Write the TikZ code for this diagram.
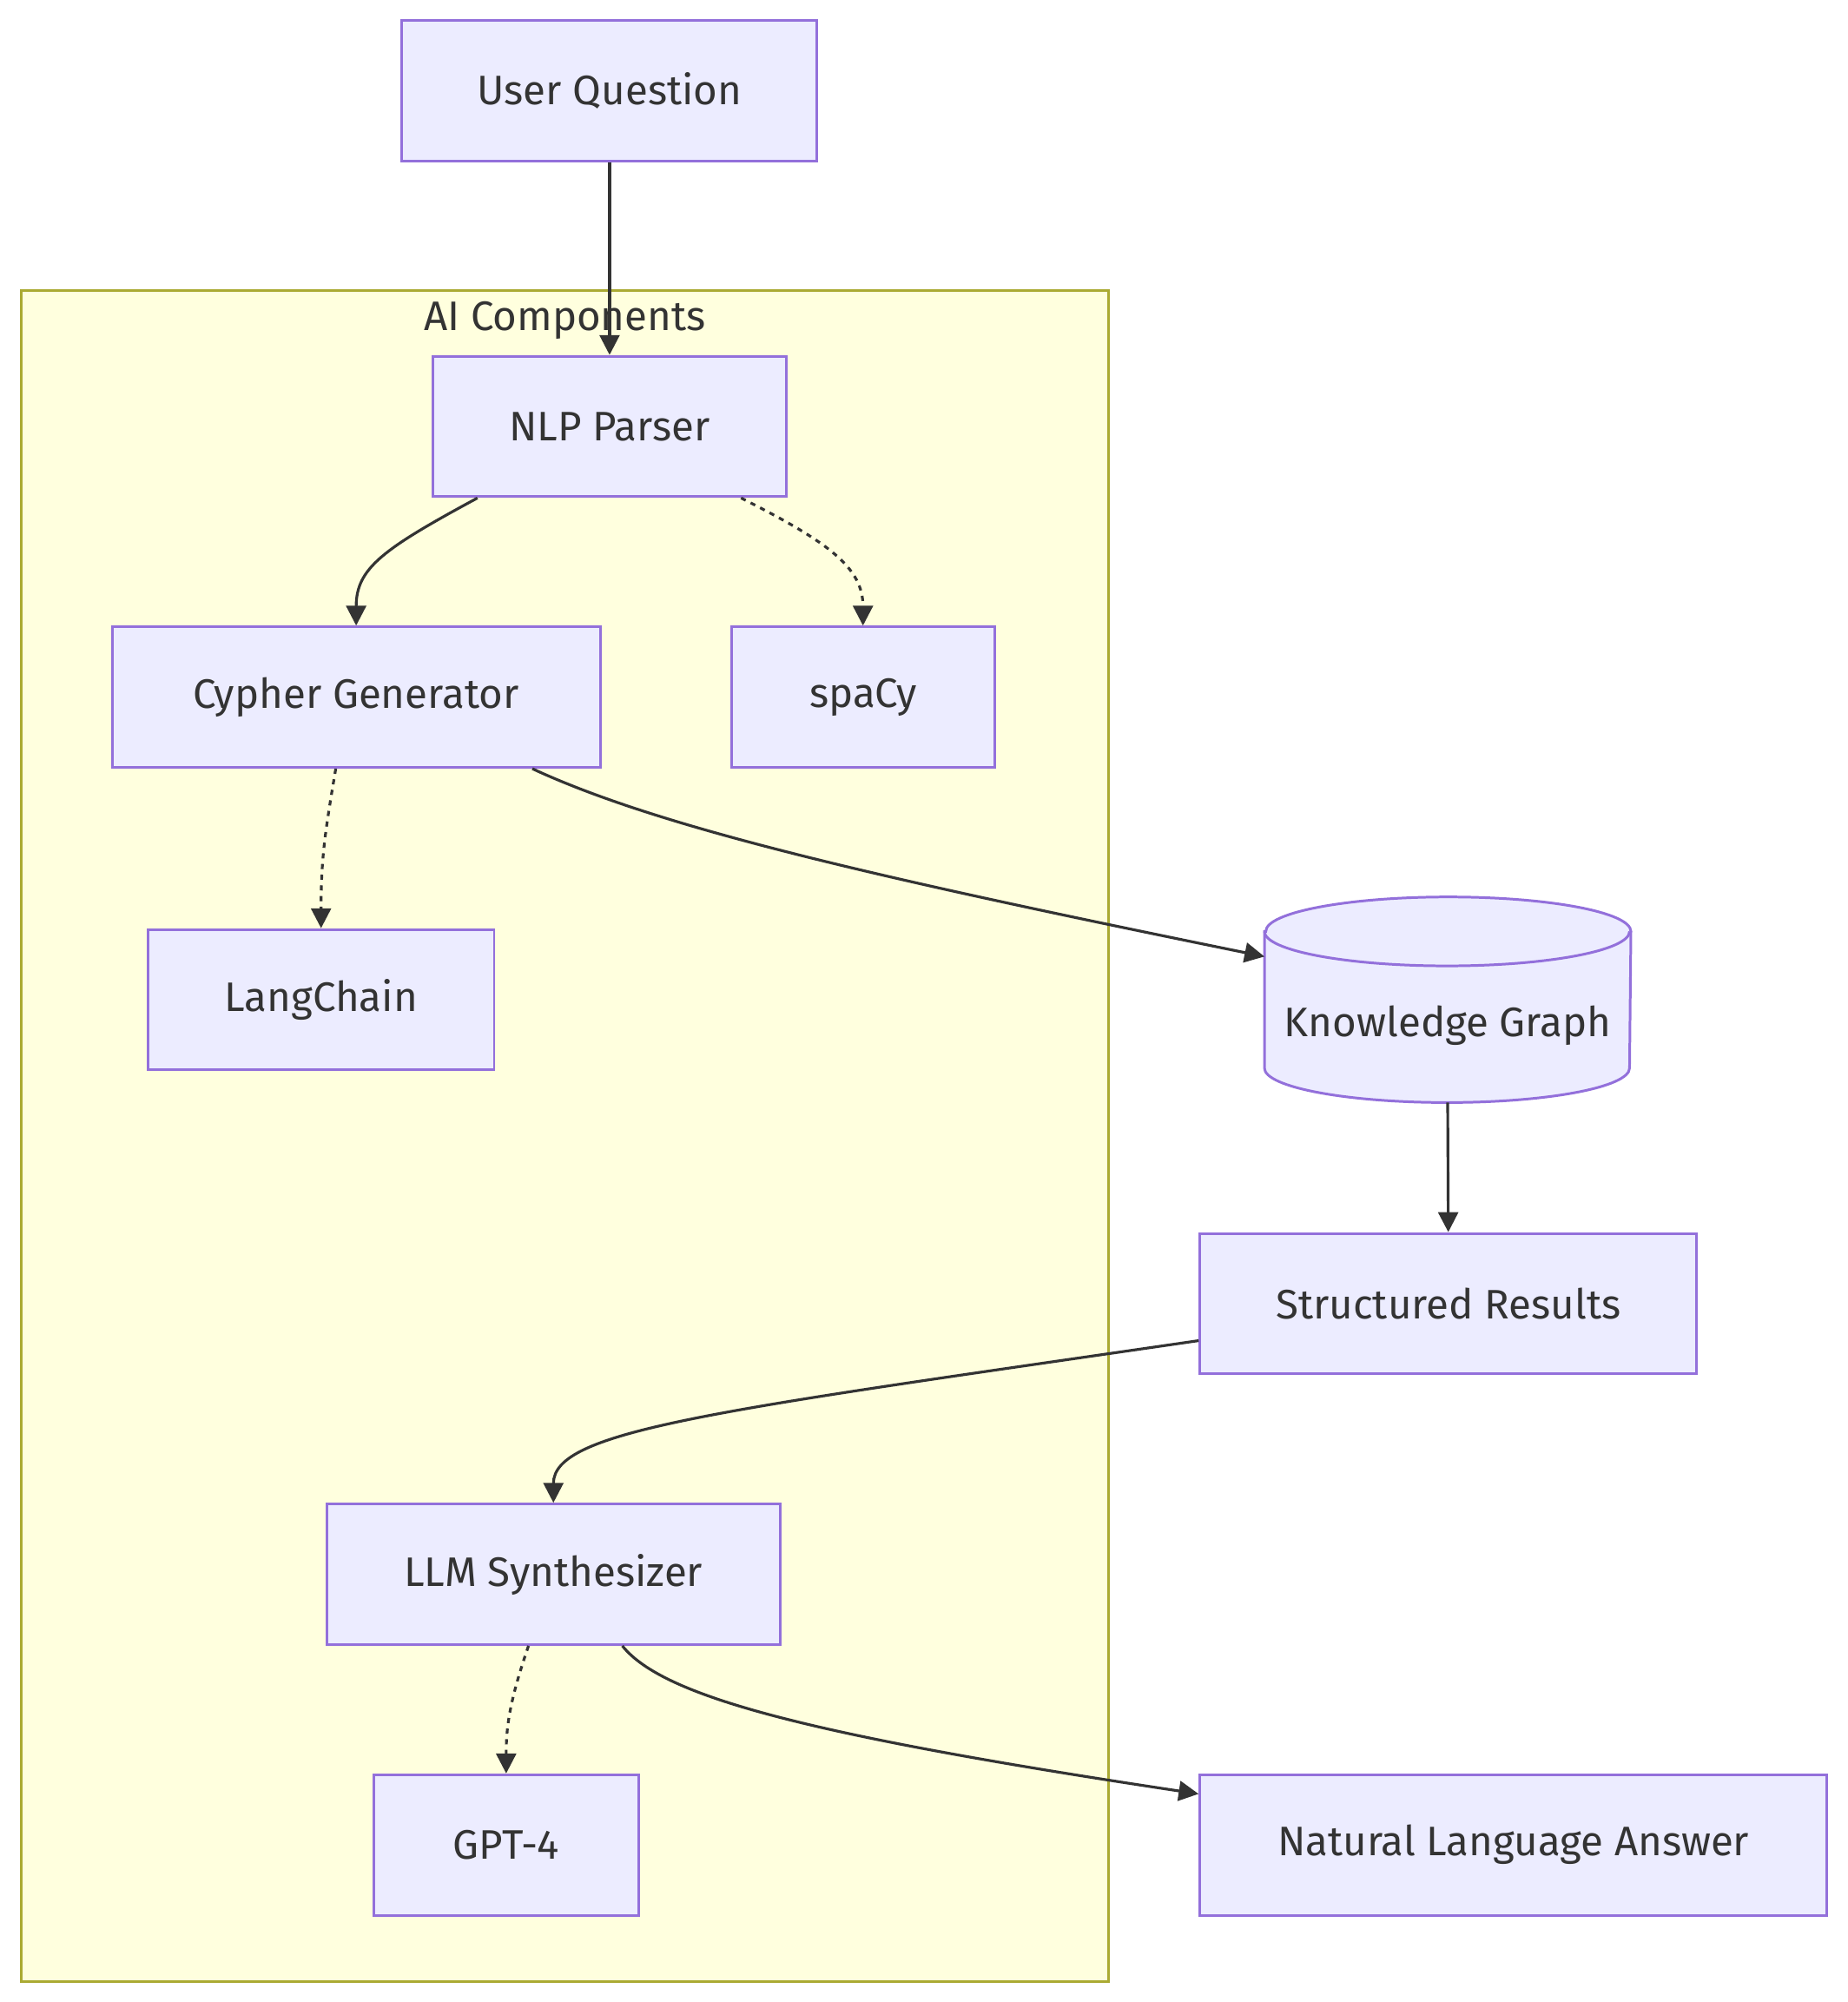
\documentclass[tikz,border=0pt]{standalone}
\RequirePackage{fontspec}
\setmainfont{Fira Sans}
\RequirePackage{tikz}
\usetikzlibrary{calc}
\usetikzlibrary{arrows.meta}

\definecolor{boxfill}{HTML}{ECECFF}
\definecolor{boxline}{HTML}{9370DB}
\definecolor{grpfill}{HTML}{FFFFDE}
\definecolor{grpline}{HTML}{AAAA33}
\definecolor{ink}{HTML}{333333}

\tikzset{
    txt/.style={text=ink, font=\fontsize{13.5pt}{16pt}\selectfont},
    box/.style={txt, draw=boxline, fill=boxfill, line width=0.85pt, minimum height=1.617cm, inner sep=0pt},
    grp/.style={draw=grpline, fill=grpfill, line width=0.85pt, inner sep=0pt},
    flow/.style={draw=ink, line width=0.9pt, -{Triangle[length=6.5pt,width=6.5pt]}},
    link/.style={flow, dash pattern=on 1.7pt off 1.8pt},
}

\begin{document}
\begin{tikzpicture}[x=0.0147cm, y=-0.0147cm]
                    \useasboundingbox (0,0) rectangle (1447,1568);

                    \node[grp, minimum width=12.510cm, minimum height=19.463cm] (AI) at (442.5,890) {};
                    \node[txt] (AIt) at ($(AI.north)+(0,24)$) {AI Components};

                    \node[box, minimum width=4.778cm] (UQ) at (477.5,71) {User Question};
                    \node[box, minimum width=4.072cm] (NLP) at (477.5,334) {NLP Parser};
                    \node[box, minimum width=5.615cm] (CG) at (279,546) {Cypher Generator};
                    \node[box, minimum width=3.028cm] (SP) at (676,546) {spaCy};
                    \node[box, minimum width=3.984cm] (LC) at (251.5,783) {LangChain};
                    \node[box, minimum width=5.718cm] (SR) at (1134.5,1021) {Structured Results};
                    \node[box, minimum width=5.219cm] (LLM) at (433.5,1233) {LLM Synthesizer};
                    \node[box, minimum width=3.043cm] (GPT) at (396.5,1445) {GPT-4};
                    \node[box, minimum width=7.218cm] (NLA) at (1185.5,1445) {Natural Language Answer};

                    \node[minimum width=4.204cm, minimum height=2.352cm, inner sep=0pt] (KG) at (1134,783) {};
                    \draw[draw=boxline, fill=boxfill, line width=0.85pt]
                        ($(KG.north west)+(0,27)$) -- ($(KG.south west)+(0,-27)$)
                        arc[start angle=180, end angle=0, x radius=143, y radius=27]
                        -- ($(KG.north east)+(0,27)$)
                        arc[start angle=0, end angle=-180, x radius=143, y radius=27] -- cycle;
                    \draw[draw=boxline, line width=0.85pt]
                        ($(KG.north west)+(0,27)$) arc[start angle=180, end angle=0, x radius=143, y radius=27];
                    \node[txt] (KGt) at ($(KG.center)+(0,20)$) {Knowledge Graph};

                    \draw[flow] (UQ.south) -- (NLP.north);
                    \draw[flow] ($(NLP.south)+(-103.5,0)$) .. controls (300,430) and (279,445) .. (CG.north);
                    \draw[link] ($(NLP.south)+(103,0)$) .. controls (650,425) and (676,445) .. (SP.north);
                    \draw[link] ($(CG.south)+(-16,0)$) .. controls (255,650) and (251.5,670) .. (LC.north);
                    \draw[flow] ($(CG.south)+(138,0)$) .. controls (520,650) and (700,690) .. ($(KG.north west)!0.29!(KG.south west)$);
                    \draw[flow] (KG.south) -- (SR.north);
                    \draw[flow] ($(SR.west)+(0,29)$) .. controls (560,1105) and (433.5,1120) .. (LLM.north);
                    \draw[link] ($(LLM.south)+(-19.5,0)$) .. controls (400,1330) and (396.5,1350) .. (GPT.north);
                    \draw[flow] ($(LLM.south)+(54,0)$) .. controls (520,1330) and (640,1360) .. ($(NLA.west)+(0,-40)$);
\end{tikzpicture}
\end{document}
